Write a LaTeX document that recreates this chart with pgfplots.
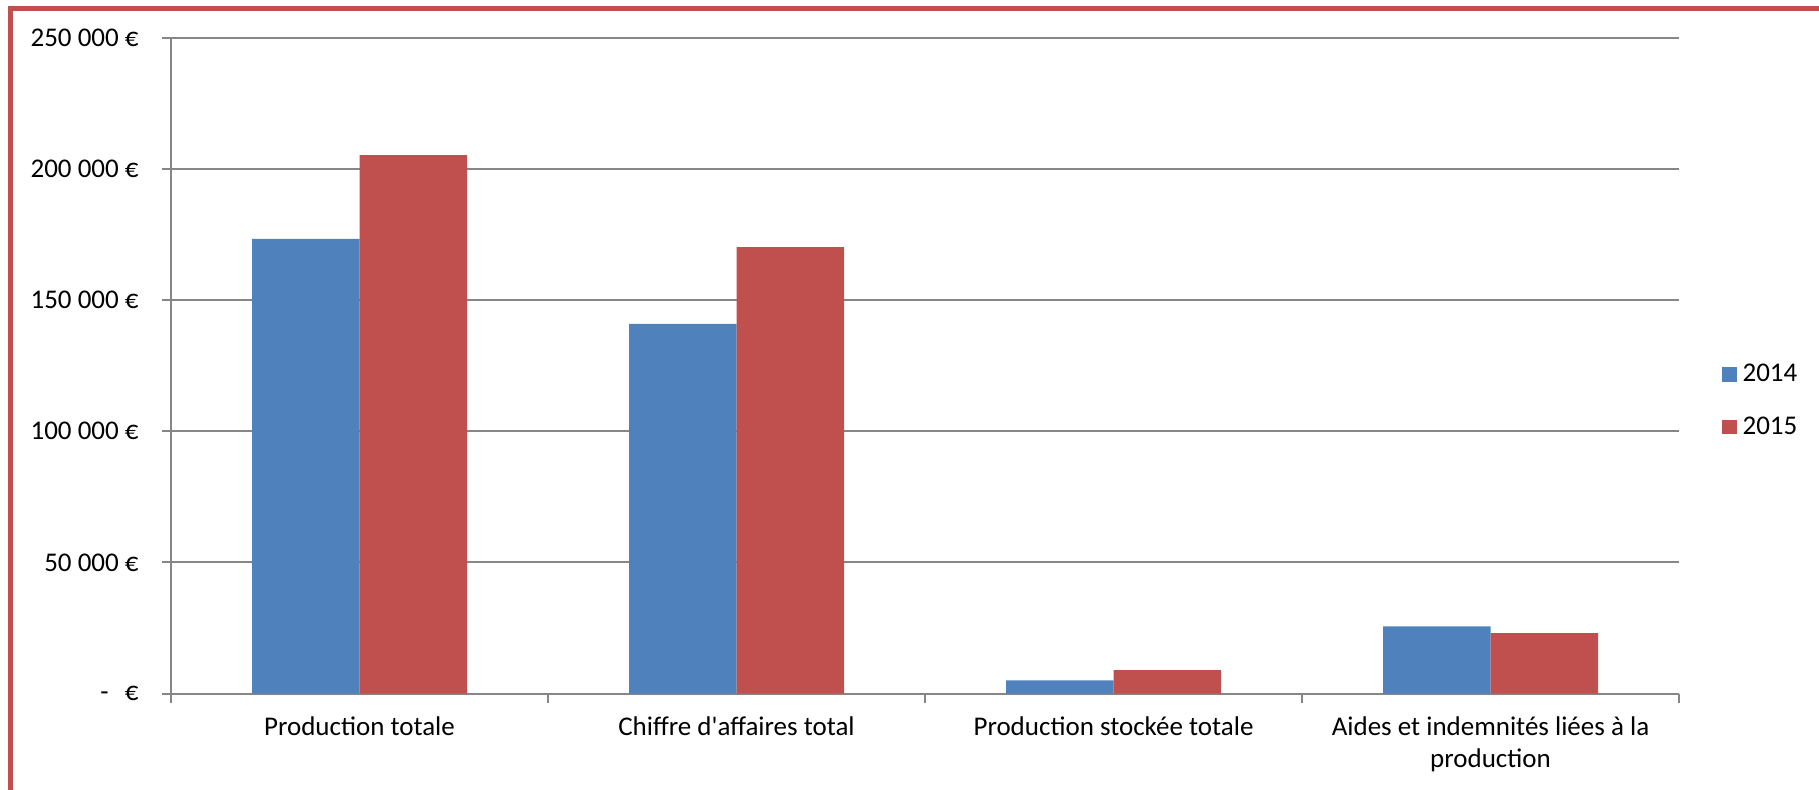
\documentclass[border=0pt]{standalone}
\usepackage{pgfplots}
\pgfplotsset{compat=1.18}
\usepackage{fontspec}
\setmainfont{Carlito}
\definecolor{xblue}{HTML}{4F81BD}
\definecolor{xred}{HTML}{C0504D}
\definecolor{xgray}{HTML}{868686}
\begin{document}
\fontsize{13.5}{16}\selectfont
\begin{tikzpicture}
\useasboundingbox (0,0) rectangle (909.5pt,395pt);
\fill[white] (0,0) rectangle (909.5pt,395pt);
\draw[line width=2.25pt, xred, line join=miter] (5.15pt,-10pt) -- (5.15pt,390.85pt) -- (930pt,390.85pt);
\begin{axis}[
  at={(85.5pt,48.15pt)}, anchor=south west,
  scale only axis, width=754pt, height=328pt,
  xmin=-0.5, xmax=3.5, ymin=0, ymax=250000,
  axis x line=bottom, axis y line=left,
  axis line style={xgray, line width=1pt, -},
  ybar=0pt, bar width=53.75pt,
  xtick={-0.5,0.5,1.5,2.5,3.5},
  xticklabels={,,,,,},
  extra x ticks={0,1,2,3},
  extra x tick labels={Production totale, Chiffre d\textquotesingle affaires total, Production stockée totale, {Aides et indemnités liées à la\\production}},
  extra x tick style={major tick length=0pt, xticklabel style={align=center, yshift=-6.8pt, font=\fontsize{13.5}{15.8}\selectfont}},
  tick align=outside,
  major tick length=4.5pt,
  tick style={xgray, line width=1pt},
  scaled y ticks=false,
  ytick={0,50000,100000,150000,200000,250000},
  yticklabels={{-\hspace{0.6em}€}, 50~000~€, 100~000~€, 150~000~€, 200~000~€, 250~000~€},
  yticklabel style={xshift=-7pt, font=\fontsize{13.5}{16}\selectfont},
  ymajorgrids, grid style={xgray, line width=1pt},
  legend style={at={(1.02851,0.4456)}, anchor=west, draw=none, fill=none, inner sep=0pt, outer sep=0pt,
    row sep=15.45pt, column sep=3pt, nodes={inner sep=0pt, anchor=base west},
    font=\fontsize{13.5}{16}\selectfont},
  legend cell align=left,
  legend image code/.code={\path[#1,draw=none] (0pt,0pt) rectangle (7.3pt,7.3pt);},
]
\addplot[fill=xblue, draw=none] coordinates {(0,173300) (1,140900) (2,5100) (3,25700)};
\addplot[fill=xred, draw=none] coordinates {(0,205200) (1,170200) (2,9000) (3,23100)};
\legend{2014,2015}
\end{axis}
\end{tikzpicture}
\end{document}
